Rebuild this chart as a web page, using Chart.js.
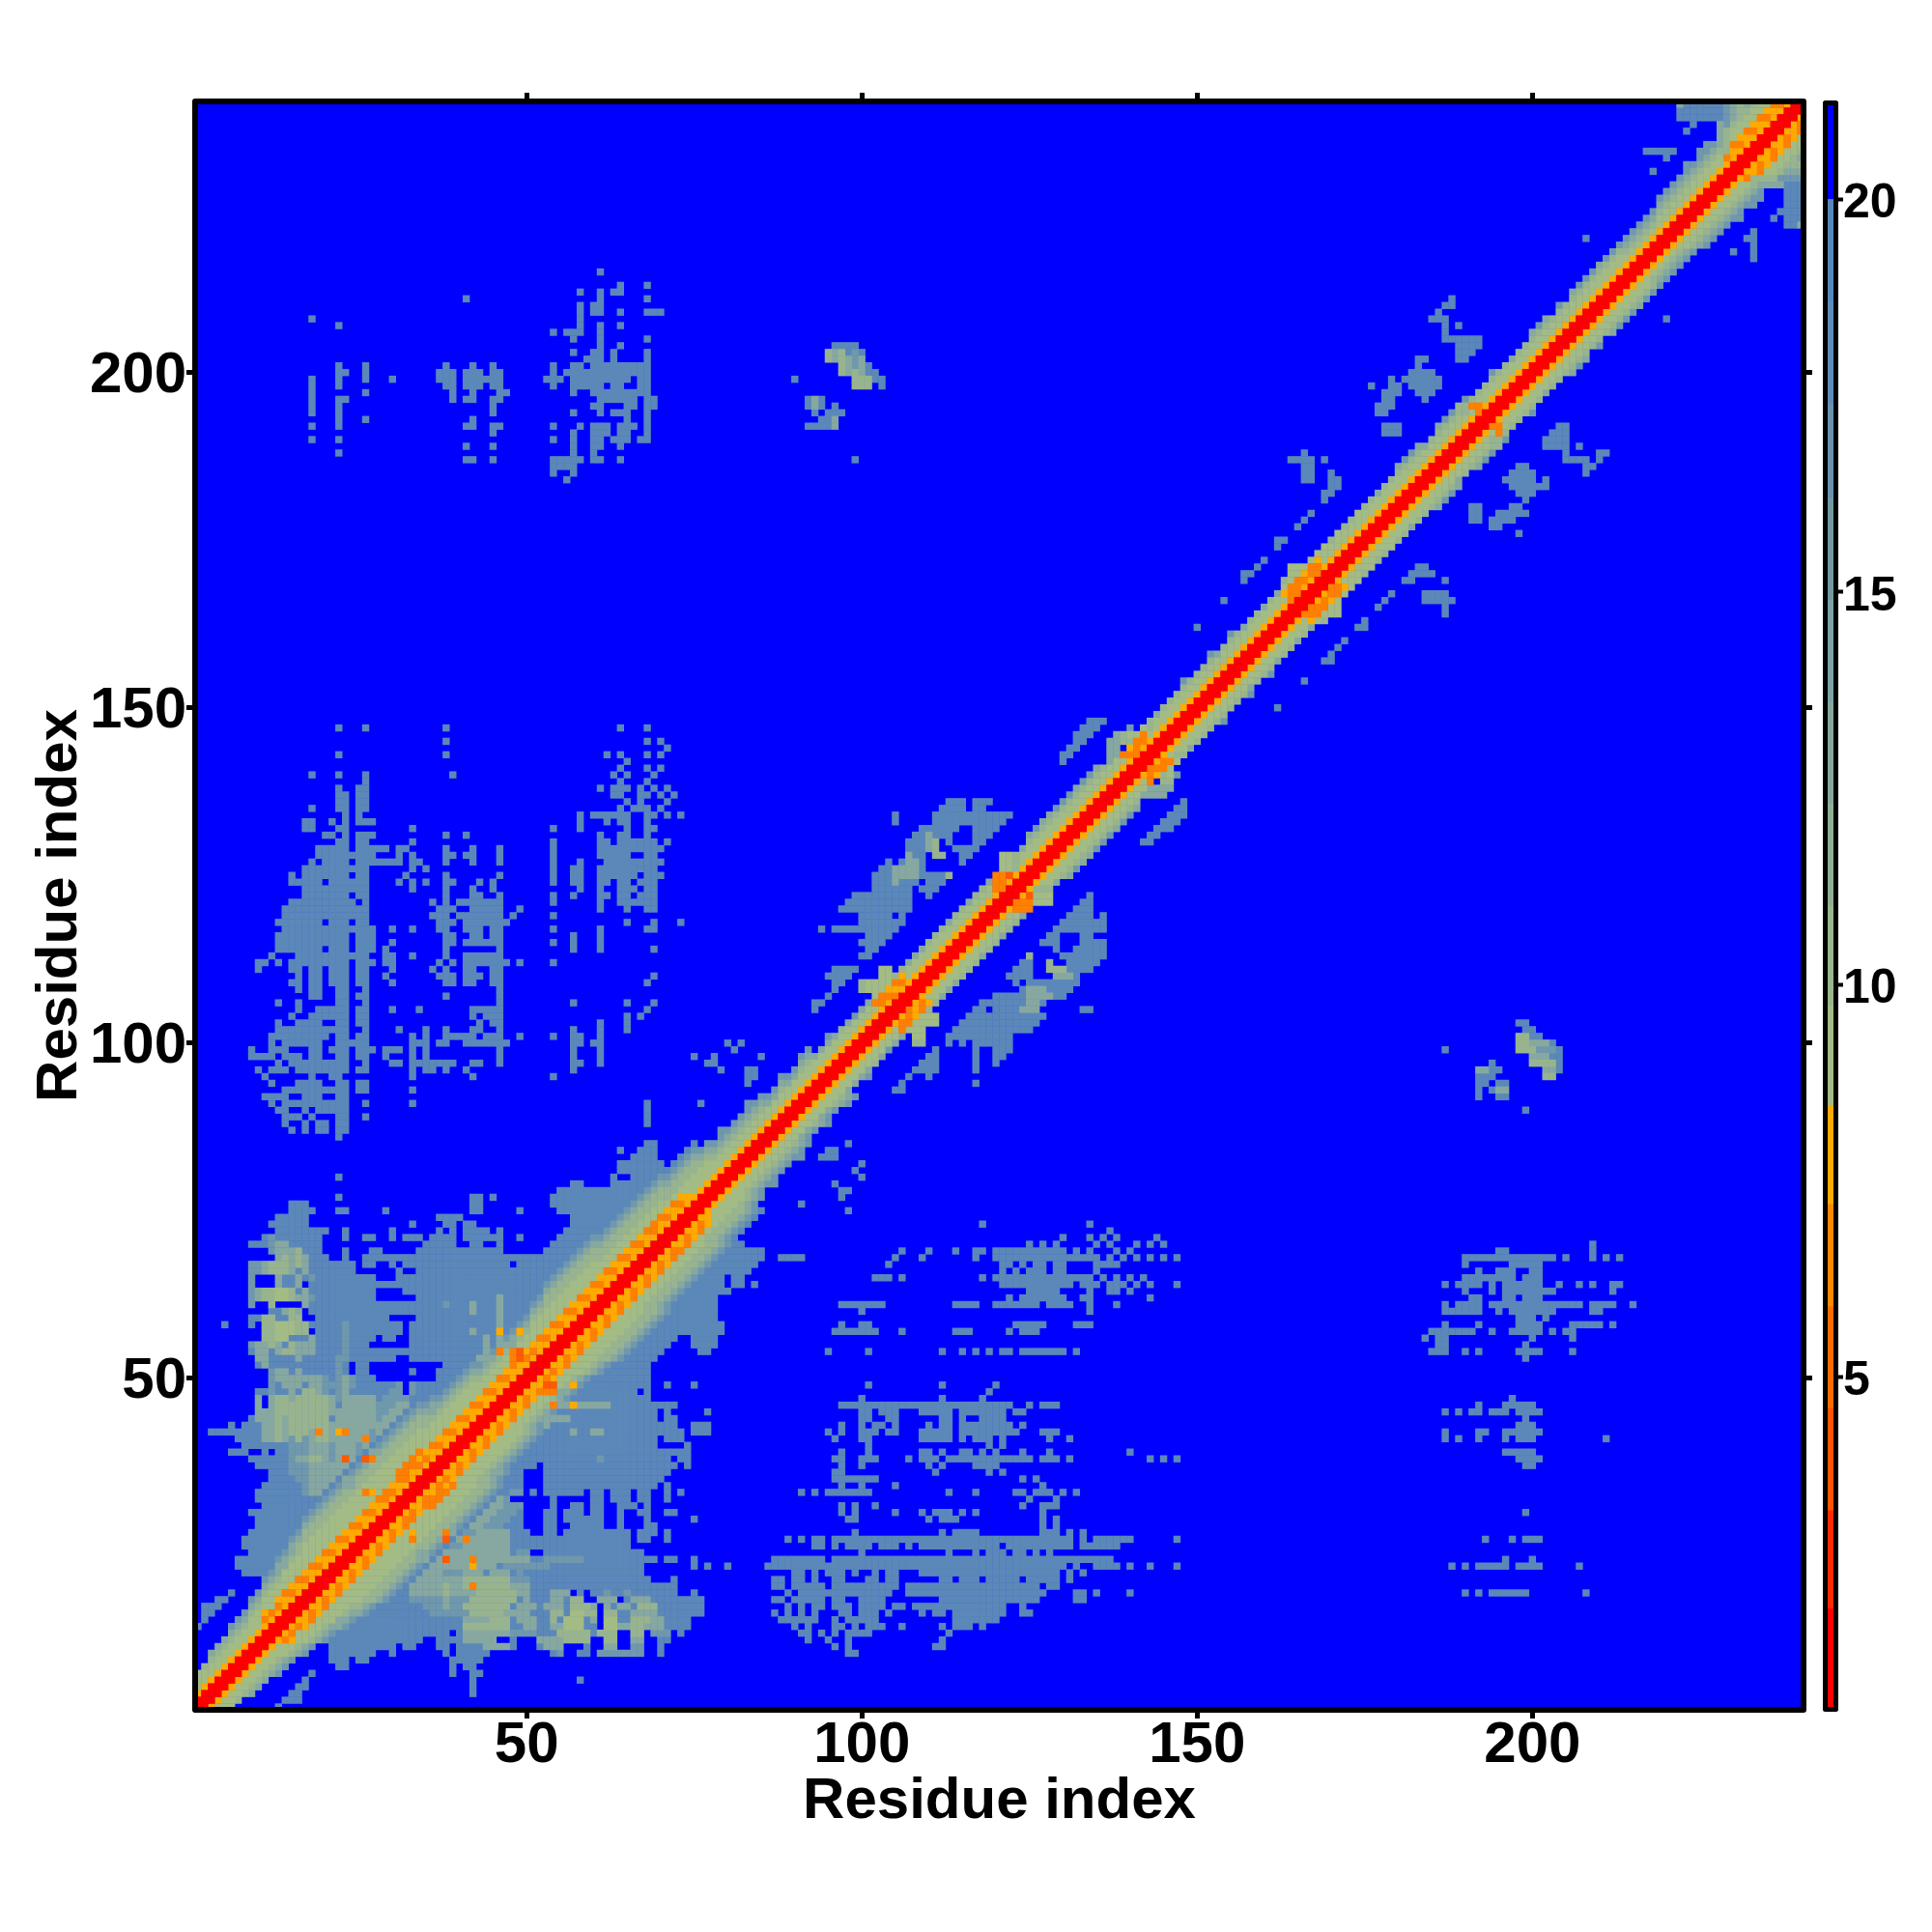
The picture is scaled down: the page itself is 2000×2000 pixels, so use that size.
<!DOCTYPE html>
<html>
<head>
<meta charset="utf-8">
<title>Residue contact map</title>
<script src="https://cdn.jsdelivr.net/npm/chart.js@4"></script>
<style>
  body { margin: 0; background: #fff; }
  #wrap { position: relative; width: 2000px; height: 2000px; }
  canvas { position: absolute; top: 0; }
</style>
</head>
<body>
<div id="wrap">
  <canvas id="map" width="2000" height="2000" style="left:0"></canvas>
  <canvas id="bar" width="120" height="2000" style="left:1880px"></canvas>
</div>
<script>
// Ticks and labels
const axisTicks = [50, 100, 150, 200];
const barTicks = [5, 10, 15, 20];
const axisLabel = "Residue index";

// Colour of each distance level (1 = red ... 9 = steel, blue = no cell)
const levelColors = ["#ff0000", "#ff5a00", "#ff8000", "#ffaa00", "#a3bb85", "#98b48f", "#86a8a0", "#6f98ac", "#5b88b8"];

// Colour bar steps
const barBreaks = [0.8, 2.05, 3.3, 4.6, 5.9, 7.2, 8.45, 9.73, 11.0, 12.3, 13.6, 14.9, 16.2, 17.4, 18.7, 20, 21.2];
const barColors = ["#ff0000", "#ff2a00", "#ff5500", "#ff6a00", "#ff8800", "#ffaa00", "#a3bb85", "#9ab48c", "#90ae94",
  "#86a89c", "#7ca2a4", "#72989f", "#6892ad", "#5f8cb4", "#5787bb", "#0000ff"];

// Diagonal band, one string per residue: level at distance 0, 1, 2 ... from the diagonal
const bandRows = [
  "114555", "114556", "1145567", "1145567", "1145567", "11455678", "11455678", "11455678", "114555678", "114555678",
  "1143455678", "1143555678", "11434556778", "11443555778", "114345556778", "1144355566789", "11434555566789", "11443555566789", "1143455556678", "1144355556678",
  "1143455556678", "1144355556678", "1143455556677", "1144355556778", "1143455556678", "1144355556678", "1143455556677", "1144355556678", "1143355556678", "1143455556678",
  "1144335556678", "1143335556678", "1144335556678", "1143435556678", "114345556678", "114435556778", "114345556789", "114435556789", "114345556789", "114435556789",
  "114345556789", "114435556789", "11434556789", "11443556789", "11434556789", "11443556789", "11434556789", "11443556789", "11443356789", "11434556789",
  "114345556789", "114435556789", "1143455566789", "1144355566789", "1143455566789", "1144355566789", "1143455566789", "1144355566789", "1143455566789", "1144355566789",
  "114345566789", "114435566789", "114345566789", "114435566789", "114345566789", "114435566789", "114345566789", "114435566789", "114335566789", "114435566789",
  "11434566789", "11443566789", "11434566789", "11445566789", "11455566789", "114555678", "114555678", "11455678", "114556788", "11455678",
  "11455678", "11455678", "114556788", "11455678", "11455678", "1145578", "1145578", "11455678", "1145578", "1145578",
  "11455678", "11455678", "114557", "114557", "1145578", "114557", "114556", "114557", "114558", "114557",
  "114557", "114556", "114556", "114556", "114556", "114556", "114557", "114557", "114557", "114556",
  "114556", "114556", "114557", "114556", "114556", "114557", "114556", "114556", "114557", "114556",
  "114557", "114556", "114556", "114557", "1145567", "1145568", "1145567", "1145567", "1145568", "1145568",
  "1145568", "1145567", "1145568", "1145568", "1145567", "114556", "1145567", "1145567", "114556", "114556",
  "114557", "114556", "114556", "114557", "114556", "114556", "114556", "1145568", "114556", "114556",
  "114556", "1145568", "114557", "114556", "1145568", "114556", "114557", "114556", "114556", "114557",
  "114556", "114557", "114557", "114557", "114556", "114556", "114556", "114556", "114555", "114556",
  "114555", "114556", "114556", "114555", "114556", "114556", "114557", "114556", "114556", "1145567",
  "1145568", "1145568", "1145567", "114557", "114556", "1145567", "1145568", "1145568", "1145568", "1145568",
  "114556", "114556", "114556", "1145568", "114556", "114556", "114557", "114556", "114556", "1145567",
  "1145568", "1145567", "114556", "1145568", "114556", "1145567", "1145568", "1145568", "1145568", "1145567",
  "1145568", "1145568", "1145568", "1145678", "1145678", "1145678", "1145678", "1145678", "11455678", "11455678",
  "11455678", "11455678", "114556788", "11455678", "114556788", "114556788", "11455678", "114556788", "1143556778", "11443556778",
  "1143455678", "1144355678", "114345567", "114435567", "11434556", "1144356", "114345", "11443", "114", "11"
];

// Cells away from the diagonal, lower triangle, "row: col col-col"; the map mirrors them
const clusterRows = [
  "1: 13", "2: 14-16", "3: 15-16 42", "4: 16-17 42", "5: 17 42 58", "6: 18 39 42-43", "7: 22-23 39 41-42",
  "8: 21-23 25-26 39-43", "9: 21-27 30 38 40-44 54-55 58-59 61-67 70",
  "10: 21-30 32-33 37-38 40-48 52-55 59 62-63 66-67 70",
  "11: 18 21-34 37-45 48 52-59 62-63 66-67 70-71",
  "12: 13-19 21-38 40-63 66-67 69-71 73",
  "13: 14-60 62-63 66-74", "14: 15-60 62-74", "15: 16-60 62-76", "16: 17-60 62-76",
  "17: 18-58 61-63 65-76", "18: 19-56 58 60-72 75", "19: 20-72", "20: 21-68 72", "21: 22-67",
  "22: 23-67 75 77 80", "23: 24-69 71-72 75", "24: 25-50 53-67", "25: 26-65", "26: 27-65 67-68 71",
  "27: 28-50 53-54 56-65 67-69 71", "28: 29-49 53-54 57-61 64 68-69", "29: 30-49 53-54 56-61 64 68 75",
  "30: 31-49 53-54 56-58 60-61 64 67-68 71-72", "31: 32-49 54 57-58 60-61 64-66 68",
  "32: 33-47 54 60-61 63-65 67-68 71", "33: 34-49 51 53-58 60-61 63-65 67-68 71 73",
  "34: 35-49 53-69 71", "35: 36-49 53-70", "36: 37-49 53-71", "37: 38-51 53-72 74", "38: 39-71 73-74",
  "39: 40-74", "40: 41-69 74", "41: 42-69 71-73", "42: 43-73 75-77", "43: 44-72 75-77", "44: 45-69 71-72",
  "45: 46-69 71 77", "46: 47-72", "47: 48-68", "48: 49-66 68", "49: 50-68 71 75", "50: 51-68", "51: 52-68",
  "52: 53-68", "53: 54-69", "54: 55-70 76-77", "55: 56-71 75-78", "56: 57-72 75-78", "57: 58-79", "58: 59-79",
  "59: 60-78", "60: 61-78", "61: 62-78", "62: 63-78", "63: 64-80", "64: 65-79 81-82 84", "65: 66-75 77-79 81-82",
  "66: 67-76 78-83", "67: 68-84", "68: 69-76 78 80-85", "69: 70-78 80-85", "70: 71-78 80-82", "71: 72-78",
  "72: 73-79", "73: 74-80", "74: 75-82", "75: 76-82", "76: 77-82 91", "77: 97", "78: 97-98", "79: 96", "80: 100",
  "84: 95"
];

const sideRows = [
  "75: 98", "73: 118 134", "72: 137", "71: 130 134 136 138 144", "70: 125 127 129 135 137 141 143 145",
  "69: 84 106 110 114 117-118 120-130 132 134 138 140",
  "68: 84 88-91 105 109 117 120-135 137 139 141 143 145 147",
  "67: 104 121-122 124 126-127 129-130 135-138", "66: 121 123 125-127 129-130 135",
  "65: 102-104 106 118 120-134 136 138 140 142", "64: 121-131 133-135 137-139 141 143 147",
  "63: 125-129 134 137-138 140", "62: 122 124-130 133-134 143",
  "61: 97-103 114-117 120-126 128-131 134 138", "60: 100 134", "58: 97 100-101 123-127 132-134",
  "57: 96-102 106 114-116 122 124-126", "54: 95 101 112 115 117 119 121-122 124-130 132",
  "49: 101 112 120", "48: 119", "47: 100 112 118", "46: 97-122 125 127-129",
  "45: 100-101 103-105 109-113 115-121 123-124", "44: 100-101 104-105 112-113 115 118-121",
  "43: 97 100 102-103 105 110 112-113 115-122 124", "42: 95 97 100-102 104-105 109-113 115-122 123 127-129",
  "41: 96 100-101 109-113 115 117-119 121 128 131", "40: 101 119 121",
  "39: 97 101 109-110 112 115-116 118 120 124 128 140",
  "38: 96-97 100-102 107 109-111 113-125 127-129 131 143 145 147", "37: 97 100 110 112 117-120",
  "36: 96-97 111 119 121", "35: 96-102 124 126", "34: 97 100 105 127",
  "33: 91 93 95-101 113 117 123-124 126-128 130 132", "32: 125 129", "31: 97 99 102 124 127-129",
  "30: 97 99 105 109 111-113 115 117 127", "29: 98-99 110 112-114 127 129", "28: 127 129",
  "27: 99 112 114-117 127-129 131 133", "26: 89 91 93-94 96-131 133 135-140 147",
  "25: 93-94 96 98-101 103-105 107 109-120 122-131 133-138", "24: 100 113 117 119-121 123-124 126 128",
  "23: 87-94 96-137", "22: 86-130 132 135-138 140 143 147",
  "21: 90-91 93 95-97 99 102 104-105 109-129 131 133",
  "20: 87-88 90-91 93 96-97 101-102 104-105 112-113 115-117 119-123 125-129 131",
  "19: 87-88 90-94 96-105 107-126 128-129", "18: 89 91-104 107-127 132-133 135 140",
  "17: 87-88 90-94 96-97 100-103 112-126 132-133", "16: 89 91 93-94 96-98 100-103 105-106 108-121 124",
  "15: 87 89 91 93 97-98 100-102 104 109 111-112 114-121 124-125", "14: 88-93 96 98-102 114-120",
  "13: 90 92 96-97 99 101-103 106 112 114-116 118", "12: 91-92 94 96 98-101 113", "11: 92 95 98 112",
  "10: 96 98 111-112", "9: 98-99"
];

const farRows = [
  "103: 198-199", "102: 199-200", "101: 198-201", "100: 198-203", "99: 187 198-204", "98: 200-204",
  "97: 194 200-204", "96: 192-195 202-204", "95: 192-194 202-203", "94: 192-193 195-196", "93: 192 194-196",
  "92: 192 195-196", "90: 199", "70: 209", "69: 195-196 209", "68: 190-203 205 209 211 213",
  "67: 190 197-201", "66: 192 195-197 200-201", "65: 190-197 199-201",
  "64: 187 189-192 194 196-201 204 207 209 212-213", "63: 190 194 196-203 212", "62: 191-192 196-197 199-201",
  "61: 187 189-192 194-196 197-207 209-212 215", "60: 187-192 195 197-203 209-210", "59: 198-200 202",
  "58: 187 192 198-201 206-210 212", "57: 185-191 194 197-201 203 205-206", "56: 184 186-187 200 206",
  "55: 186-187 199", "54: 185-187 190 192 198-201 206", "53: 199", "47: 197", "46: 192 196-200",
  "45: 187 189 191-192 194-196 198-201", "44: 199", "43: 198-200", "42: 187 192-193 196-201",
  "41: 187 189 192 196 198-200 211", "39: 196-200", "38: 198-201", "37: 199-200", "30: 199",
  "26: 193 197 199-201", "23: 196 200", "22: 188 190 192-196 198-201 207", "18: 190 192 194-199 208"
];

// Blobs that run alongside the diagonal
const blobRows = [
  "136: 148", "135: 147-148", "134: 146-148", "133: 145-147", "132: 144-146", "131: 143-144", "130: 142-143",
  "122: 134", "121: 133-134", "120: 132-134", "119: 131-134 136", "118: 130-136", "117: 129-136",
  "116: 128-129 133-134", "115: 127-129 133-136", "114: 129 132-136", "113: 125 130-136", "112: 124-125 128 131-135",
  "111: 123-125 128-134", "110: 122-125 129-132", "109: 123 125-132", "108: 124-131", "107: 120-121 122-130",
  "106: 118-127", "105: 117-118 120-126 133-134", "104: 116-127", "103: 115-126", "102: 114-125", "101: 113-122",
  "100: 113 115 117-122", "99: 111 117 120-122", "98: 110-111 117 120-121", "97: 109-111 117 120",
  "96: 108-111 117", "95: 107 110", "94: 106 117", "93: 105-106", "85: 98", "84: 95-96", "83: 94-96", "82: 100", "81: 99",
  "180: 191-192", "179: 191-192", "178: 191-192 194-195", "177: 194-195", "171: 183-184", "170: 182-185",
  "169: 181-182 187", "167: 179 184-187", "166: 178 184-188", "165: 177 187", "164: 187", "163: 175", "162: 174-175",
  "160: 172", "159: 171", "158: 170", "157: 169-170", "154: 166", "150: 162",
  "192: 204-205", "191: 203-205", "190: 202-205", "189: 202-205 207", "188: 205 210-211", "187: 205-208 210",
  "186: 198-199 208-209", "185: 197-200 208", "184: 196-200 202", "183: 197-202", "182: 198-200", "181: 199",
  "180: 192 197-198", "179: 191-192 195-199", "178: 191-192 194-197", "177: 195", "176: 198", "208: 220",
  "217: 233", "218: 230 233", "219: 233", "220: 232-233", "221: 233", "222: 238-240", "223: 236 238-240",
  "224: 237-240", "225: 238-240", "226: 238-240", "227: 238-240", "228: 235-240", "229: 233-240", "230: 233-240",
  "231: 233-240", "232: 234-240", "233: 217-221"
];

// Lighter patches and the orange dots, laid over the cells above as "row: col/level"
const clusterTints = [
  "9: 55/8 61-67/8", "10: 44-47/7 53-55/7 62-63/7 66-67/8", "11: 41-45/7 52-55/7 56-59/6 62-63/6 66-67/7",
  "12: 41-47/7 48-51/8 55-59/6 61-63/6 66-67/6 69-71/8", "13: 41-47/6 50-51/7 54-55/7 56-58/5 62-63/5 64-65/7 66-67/6 68-70/7",
  "14: 41-44/7 45-47/6 49-51/7 54/6 56-58/5 60/7 62-63/5 66-68/6 69-70/7",
  "15: 36-41/8 42-46/6 47-50/7 54-55/6 57-58/5 59-60/6 62-63/6 66-69/7", "16: 35-37/8 38/7 39-40/8 41-47/6 49-51/7 53-55/7 57-59/6 60/7 62/7 64-65/7 67-69/6",
  "17: 33-37/8 38/7 39-41/8 42-48/6 50/7 54-55/7 57-58/6 61-63/7 66-68/7", "18: 33-37/7 38/6 39-42/7 43-48/6 49-50/7 54-56/7 62/8 65/8",
  "19: 33-37/7 38/6 39-40/7 41/6 42/3 43-47/6 48-50/7", "20: 34-35/7 36-40/7 41-47/6 48-50/8", "21: 35-37/7 38-40/8 41-43/7 45-47/7 49/8",
  "22: 36-37/7 38-40/7 41/7 42/4 43-45/7 47-53/8", "23: 37/7 38/2 39-40/7 41/7 42/3 43-50/7 53-58/8", "24: 38-39/7 40-47/7 49-50/8",
  "25: 39-40/8 41-47/7", "26: 33/3 38/2 40/7 41/3 42-47/7", "27: 33/4 38/3 41-42/8 43-47/7", "28: 42-43/7 44-46/8", "29: 43-44/7 45-47/8",
  "30: 44-45/7 46-48/8", "31: 45-46/7 47-49/8", "32: 46/7 47/8", "33: 48-49/8",
  "38: 61/8", "42: 57/7 60-61/7", "43: 53/7", "44: 53-56/7", "46: 54/3 55-56/7 57/4 58-62/7", "49: 53-54/2 57/4",
  "48: 53-54/3 55/7"
];

const burstTints = [
  "100: 108-109/6", "101: 108-109/5", "102: 106/3 107-109/5", "103: 106/3 107/3 108/5 109-111/5",
  "104: 106/4 107/3 108/4 109-111/5", "105: 107/3 108/4 109/3 110/6", "106: 108/4 109/3 110/4",
  "105: 124-126/7", "106: 125-126/7", "107: 125-128/7", "108: 125-127/7", "110: 129-131/7", "111: 128-130/6", "112: 128/6", "113: 125/6",
  "120: 123-125/3", "121: 123-125/3 126-128/5", "122: 124/4 125/2 126-128/5", "123: 126-128/6",
  "137: 142-145/7", "138: 143-146/7", "139: 143/3 144/0 145-146/6", "140: 142/4 143/3 144/4 145/6 146/5 147/8",
  "141: 143-145/3 146/5", "142: 144/4 145-146/3 147/5", "143: 145/4 146/5 147/6",
  "163: 167/4 168/5 169/6", "164: 166-168/3 169-171/5", "165: 167-169/3 170-171/5",
  "166: 168/4 169/3 170/4 171/5", "167: 169/4 170-171/3 172/5", "168: 170-171/3 172/4 173/5", "169: 172/5",
  "189: 194-195/6", "190: 194-195/6", "191: 195/3", "192: 194-195/3",
  "95: 202-203/6", "96: 192-193/7 202-203/7", "97: 200-203/6", "98: 200-202/7", "99: 198-200/6 201-203/8",
  "100: 198-199/6 200-202/7", "101: 198-199/6", "93: 195-196/7",
  "222: 240/7", "228: 235-237/7", "229: 233-236/6 237-240/8", "230: 238-240/7", "231: 239-240/6"
];

// Build the cell table from the lists above
const cells = new Map();

function setCell(x, y, level) {
    if (x > 240 || y > 240) return;
    [[x, y], [y, x]].forEach(([a, b]) => {
        const key = a + "," + b;
        if (level) cells.set(key, level);
        else cells.delete(key);
    });
}

function applyRows(rows) {
    rows.forEach(row => {
        const [head, runs] = row.split(": ");
        const y = Number(head);
        runs.split(" ").forEach(run => {
            const [span, level] = run.split("/");
            const [from, to] = span.split("-").map(Number);
            for (let x = from; x <= (to || from); x++) {
                setCell(x, y, level === undefined ? 9 : Number(level));
            }
        });
    });
}

applyRows(clusterRows);
applyRows(sideRows);
applyRows(farRows);
applyRows(blobRows);
bandRows.forEach((levels, i) => {
    [...levels].forEach((c, d) => setCell(i + 1 + d, i + 1, Number(c)));
});
applyRows(clusterTints);
applyRows(burstTints);

// One scatter dataset per colour level
const levelPoints = levelColors.map(() => []);
cells.forEach((level, key) => {
    const [x, y] = key.split(",").map(Number);
    levelPoints[level - 1].push({ x, y });
});

const fontFamily = '"Liberation Sans", Arial, sans-serif';
const labelFont = { family: fontFamily, size: 60, weight: "bold" };

// Thick black frame just outside the plot area
function framePlugin(width) {
    return {
        id: "frame",
        afterDraw(chart) {
            const { left, top, right, bottom } = chart.chartArea;
            const ctx = chart.ctx;
            ctx.save();
            ctx.strokeStyle = "#000";
            ctx.lineWidth = width;
            ctx.lineJoin = "round";
            ctx.strokeRect(left - width / 2, top - width / 2, right - left + width, bottom - top + width);
            ctx.restore();
        }
    };
}

const blueGround = {
    id: "blueGround",
    beforeDatasetsDraw(chart) {
        const { left, top, right, bottom } = chart.chartArea;
        chart.ctx.fillStyle = "#0000ff";
        chart.ctx.fillRect(left, top, right - left, bottom - top);
    }
};

function axisOptions(position, fixedSize, showLabels, title) {
    const horizontal = position === "bottom" || position === "top";
    return {
        type: "linear",
        axis: horizontal ? "x" : "y",
        position: position,
        min: 1,
        max: 240,
        afterBuildTicks(axis) {
            axis.ticks = axisTicks.map(value => ({ value }));
        },
        afterFit(axis) {
            if (horizontal) axis.height = fixedSize;
            else axis.width = fixedSize;
        },
        border: { display: false },
        grid: { drawOnChartArea: false, drawTicks: true, tickLength: 12, tickWidth: 5, tickColor: "#000" },
        ticks: {
            display: showLabels,
            autoSkip: false,
            maxRotation: 0,
            padding: horizontal ? -8 : 0,
            labelOffset: horizontal ? 0 : 4,
            color: "#000",
            font: labelFont
        },
        title: title
    };
}

new Chart(document.getElementById("map"), {
    type: "scatter",
    data: {
        datasets: levelColors.map((color, i) => ({
            label: "level " + (i + 1),
            data: levelPoints[i],
            order: i, // red ends up on top where neighbouring cells overlap
            pointStyle: "rect",
            pointRadius: 5.25,
            pointBorderWidth: 0,
            backgroundColor: color,
            clip: 0
        }))
    },
    options: {
        responsive: false,
        animation: false,
        layout: { padding: 0 },
        events: [],
        plugins: { legend: { display: false }, tooltip: { enabled: false } },
        scales: {
            x: axisOptions("bottom", 233, true, {
                display: true, text: axisLabel, color: "#000", font: labelFont, padding: { top: 0, bottom: 99 }
            }),
            x2: axisOptions("top", 108, false, { display: false }),
            y: axisOptions("left", 205, true, {
                display: true, text: axisLabel, color: "#000", font: labelFont, padding: { top: 26, bottom: 0 }
            }),
            y2: axisOptions("right", 136, false, { display: false })
        }
    },
    plugins: [blueGround, framePlugin(6)]
});

// Colour bar
new Chart(document.getElementById("bar"), {
    type: "bar",
    data: {
        labels: [""],
        datasets: barColors.map((color, i) => ({
            data: [[barBreaks[i], barBreaks[i + 1]]],
            backgroundColor: color,
            borderWidth: 0,
            barPercentage: 1,
            categoryPercentage: 1
        }))
    },
    options: {
        responsive: false,
        animation: false,
        events: [],
        layout: { padding: { left: 12, top: 109, bottom: 233, right: 0 } },
        plugins: { legend: { display: false }, tooltip: { enabled: false } },
        scales: {
            x: { display: false, stacked: true },
            y: {
                position: "right",
                min: 0.8,
                max: 21.2,
                afterBuildTicks(axis) {
                    axis.ticks = barTicks.map(value => ({ value }));
                },
                afterFit(axis) {
                    axis.width = 102;
                },
                border: { display: false },
                grid: { drawOnChartArea: false, drawTicks: true, tickLength: 10, tickWidth: 4, tickColor: "#000" },
                ticks: {
                    autoSkip: false,
                    padding: 0,
                    labelOffset: 5,
                    color: "#000",
                    font: { family: fontFamily, size: 50, weight: "bold" }
                }
            }
        }
    },
    plugins: [framePlugin(5)]
});
</script>
</body>
</html>
